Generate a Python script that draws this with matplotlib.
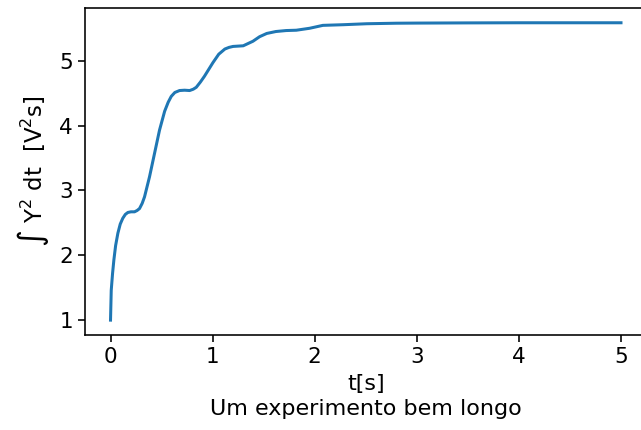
import matplotlib
matplotlib.use("Agg")
import matplotlib.pyplot as plt

# integrated signal energy over time, sampled along the run
t = [0.0, 0.007, 0.02, 0.033, 0.05, 0.072, 0.095, 0.12, 0.145, 0.17,
     0.2, 0.235, 0.26, 0.284, 0.31, 0.333, 0.382, 0.431, 0.48, 0.53,
     0.565, 0.595, 0.63, 0.676, 0.725, 0.775, 0.81, 0.84, 0.88, 0.92,
     1.003, 1.06, 1.12, 1.16, 1.20, 1.30, 1.395, 1.46, 1.53, 1.62,
     1.72, 1.82, 1.95, 2.08, 2.28, 2.51, 2.8, 3.0, 3.5, 4.0,
     4.5, 5.0]
energy = [1.0, 1.46, 1.72, 1.93, 2.15, 2.34, 2.48, 2.57, 2.63, 2.66,
          2.67, 2.67, 2.69, 2.72, 2.80, 2.90, 3.21, 3.57, 3.93, 4.22,
          4.36, 4.45, 4.51, 4.54, 4.545, 4.54, 4.56, 4.59, 4.67, 4.76,
          4.97, 5.10, 5.18, 5.205, 5.22, 5.23, 5.30, 5.37, 5.42, 5.45,
          5.465, 5.47, 5.50, 5.545, 5.555, 5.57, 5.578, 5.58, 5.583, 5.585,
          5.585, 5.585]

xticks = [0, 1, 2, 3, 4, 5]
yticks = [1, 2, 3, 4, 5]

s = 1.45
plt.rcParams['mathtext.default'] = 'regular'
plt.rcParams['font.size'] = 15.5
plt.rcParams['axes.linewidth'] = 0.8 * s
plt.rcParams['xtick.major.width'] = 0.8 * s
plt.rcParams['ytick.major.width'] = 0.8 * s
plt.rcParams['xtick.major.size'] = 3.5 * s
plt.rcParams['ytick.major.size'] = 3.5 * s

fig = plt.figure(figsize=(6.41, 4.30), dpi=100)
ax = fig.add_axes([0.1326, 0.221, 1.0086 - 0.1326, 0.981 - 0.221])
ax.plot(t, energy, color='#1f77b4', linewidth=1.5 * s,
        solid_joinstyle='round')

ax.set_xticks(xticks)
ax.set_yticks(yticks)
ax.set_xlim(-0.25, 5.25)
ax.set_ylim(0.771, 5.81)
ax.set_xlabel("t[s]\nUm experimento bem longo", fontsize=16,
              linespacing=1.33, labelpad=5)
ax.set_ylabel(r"$\int\ Y^2\ dt\ \ [V^2s]$", fontsize=16.5, labelpad=6)

fig.savefig("out.png", dpi=100)
